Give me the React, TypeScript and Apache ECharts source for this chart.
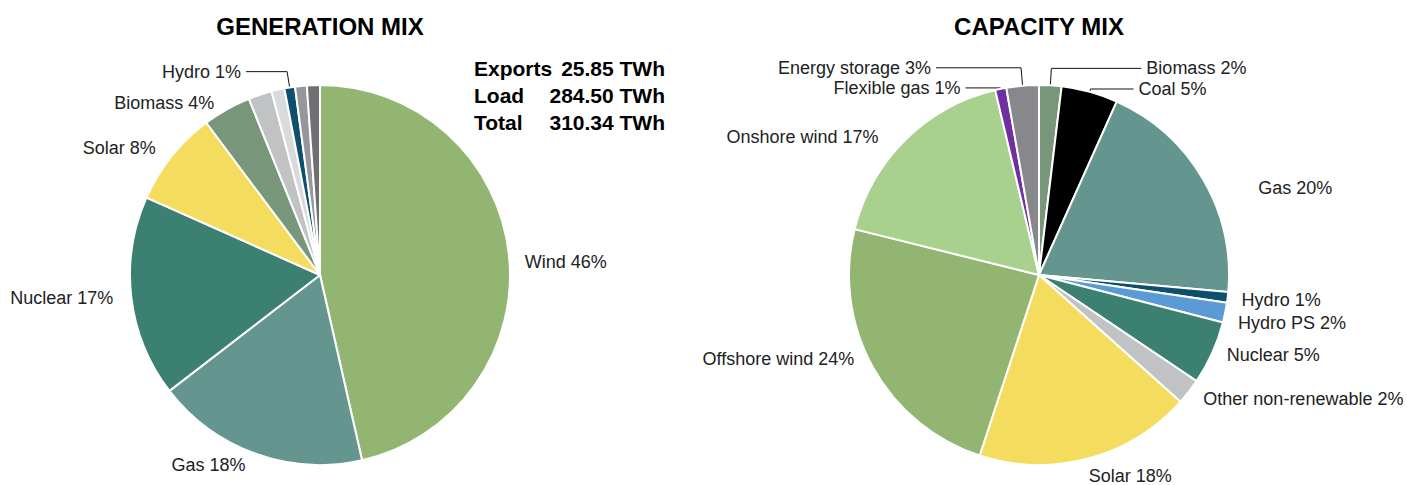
import React, { useEffect, useRef } from "react";
import * as echarts from "echarts";

// ---- Data ----
const genNames = ["Wind", "Gas", "Nuclear", "Solar", "Biomass", "Other non-renewable", "Other renewable", "Hydro", "Energy storage", "Imports"];
const genValues = [46.4, 18.1, 17.1, 8.1, 4.1, 2.0, 1.1, 0.9, 1.0, 1.1];
const genColors = ["#93b572", "#64968f", "#3b8071", "#f4dd5e", "#78977a", "#c0c2c4", "#d9dadb", "#0e4f6e", "#96979a", "#6e6f72"];
const genHiddenLabels = ["Other non-renewable", "Other renewable", "Energy storage", "Imports"];

const capNames = ["Biomass", "Coal", "Gas", "Hydro", "Hydro PS", "Nuclear", "Other non-renewable", "Solar", "Offshore wind", "Onshore wind", "Flexible gas", "Energy storage"];
const capValues = [1.9, 4.8, 19.7, 0.9, 1.7, 5.4, 2.2, 18.4, 23.8, 17.4, 0.95, 2.75];
const capColors = ["#78977a", "#000000", "#64968f", "#0e4f6e", "#5b9bd5", "#3b8071", "#c0c2c4", "#f4dd5e", "#93b572", "#a9d18e", "#7030a0", "#87888b"];

const statLabels = ["Exports", "Load", "Total"];
const statValues = ["25.85 TWh", "284.50 TWh", "310.34 TWh"];

const titles = ["GENERATION MIX", "CAPACITY MIX"];

// ---- Label layout config: [length, length2, line visible, dy nudge, dx nudge] ----
type LabelCfg = [number, number, boolean, number, number];
const genLabelCfg: Record<string, LabelCfg> = {
  Wind: [5, 6, false, 9, 0],
  Gas: [12, 1, false, 0, 0],
  Nuclear: [8, 5, false, 0, 0],
  Solar: [14, 0, false, 0, 0],
  Biomass: [7, 4, false, 0, 0],
  Hydro: [16, 41, true, 0, 0],
};
const capLabelCfg: Record<string, LabelCfg> = {
  Biomass: [17, 90, true, 0, 0],
  Coal: [3, 43, true, 0, 0],
  Gas: [5, 46, false, 12, 0],
  Hydro: [8, 1, false, 2, 0],
  "Hydro PS": [12, 0, false, 8, -4],
  Nuclear: [6, 4, false, 0, 0],
  "Other non-renewable": [12, 0, false, 0, 0],
  Solar: [18, 0, false, 0, -9],
  "Offshore wind": [5, 9, false, -10, 0],
  "Onshore wind": [4, 19, false, 0, 0],
  "Flexible gas": [1, 35, true, 0, 0],
  "Energy storage": [18, 85, true, 0, 0],
};

const LABEL_FONT = "'Liberation Sans', Arial, Helvetica, sans-serif";

function buildData(names: string[], values: number[], colors: string[], cfgs: Record<string, LabelCfg>, hidden: string[]) {
  return names.map((name, i) => {
    const cfg = cfgs[name] || [10, 10, false, 0, 0];
    const show = hidden.indexOf(name) < 0;
    return {
      name,
      value: values[i],
      itemStyle: { color: colors[i] },
      label: { show },
      labelLine: { show: show && cfg[2], length: cfg[0], length2: cfg[1] },
    };
  });
}

function nudge(names: string[], cfgs: Record<string, LabelCfg>) {
  return (p: any) => {
    const cfg = cfgs[names[p.dataIndex]];
    return { hideOverlap: false, moveOverlap: false, dy: cfg ? cfg[3] : 0, dx: cfg ? cfg[4] : 0 };
  };
}

export default function App() {
  const ref = useRef<HTMLDivElement>(null);
  useEffect(() => {
    if (!ref.current) return;
    const chart = echarts.init(ref.current, undefined, { renderer: "svg" });
    const pieCommon = {
      type: "pie",
      radius: 190,
      startAngle: 90,
      clockwise: true,
      avoidLabelOverlap: false,
      itemStyle: { borderColor: "#ffffff", borderWidth: 2 },
      label: {
        show: true,
        position: "outside",
        fontFamily: LABEL_FONT,
        fontSize: 18,
        color: "#222222",
        distanceToLabelLine: 5,
        formatter: (p: any) => `${p.name} ${Math.round(p.percent)}%`,
      },
      labelLine: { lineStyle: { color: "#111111", width: 1 } },
      emphasis: { disabled: true },
    };
    const statRows = [68, 95, 122];
    const graphics: any[] = [];
    statLabels.forEach((lab, i) => {
      graphics.push({
        type: "text",
        x: 474,
        y: statRows[i],
        style: { text: lab, font: `bold 21px ${LABEL_FONT}`, fill: "#000", textAlign: "left", textVerticalAlign: "middle" },
      });
      graphics.push({
        type: "text",
        x: 665,
        y: statRows[i],
        style: { text: statValues[i], font: `bold 21px ${LABEL_FONT}`, fill: "#000", textAlign: "right", textVerticalAlign: "middle" },
      });
    });
    const titleStyle = { fontFamily: LABEL_FONT, fontWeight: "bold", fontSize: 24, color: "#000" };
    chart.setOption({
      animation: false,
      backgroundColor: "#ffffff",
      title: [
        { text: titles[0], left: 315, top: 9, textAlign: "center", textStyle: titleStyle },
        { text: titles[1], left: 1034, top: 9, textAlign: "center", textStyle: titleStyle },
      ],
      graphic: graphics,
      series: [
        { ...pieCommon, name: "Generation", center: [320, 275], data: buildData(genNames, genValues, genColors, genLabelCfg, genHiddenLabels), labelLayout: nudge(genNames, genLabelCfg) },
        { ...pieCommon, name: "Capacity", center: [1039, 275], data: buildData(capNames, capValues, capColors, capLabelCfg, []), labelLayout: nudge(capNames, capLabelCfg) },
      ],
    });
    return () => chart.dispose();
  }, []);
  return <div ref={ref} style={{ position: "absolute", left: 0, top: 0, width: 1407, height: 485 }} />;
}
